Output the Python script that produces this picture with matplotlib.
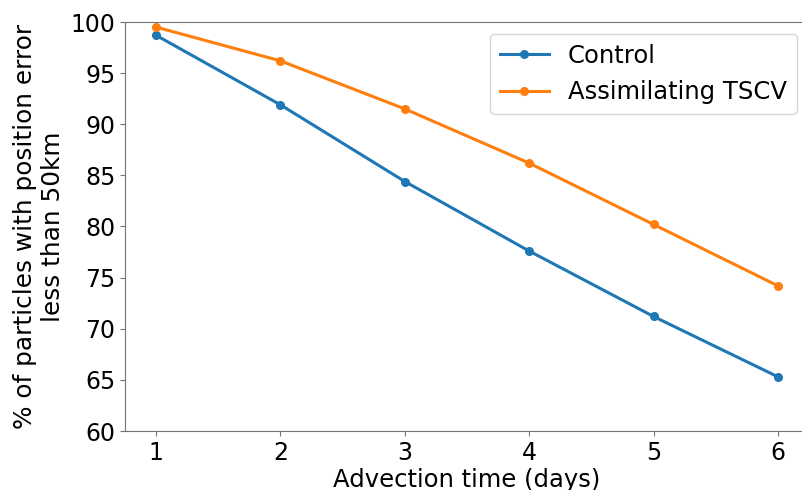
import numpy as np
import matplotlib
matplotlib.use("Agg")
import matplotlib.pyplot as plt

days = [1, 2, 3, 4, 5, 6]
control = [98.7, 91.9, 84.4, 77.6, 71.2, 65.3]
tscv = [99.5, 96.2, 91.5, 86.2, 80.2, 74.2]

plt.rcParams['font.family'] = ['DejaVu Sans']
plt.rcParams['font.size'] = 17.5

fig = plt.figure(figsize=(8.02, 4.9), dpi=100)
# axes run a little past the right edge, as in the cropped original
ax = fig.add_axes([125 / 802, 59 / 490, 684 / 802, 409 / 490])

ax.plot(days, control, marker='o', lw=2.2, ms=5.5, color='#1f77b4', label='Control')
ax.plot(days, tscv, marker='o', lw=2.2, ms=5.5, color='#ff7f0e', label='Assimilating TSCV')

ax.set_ylim(60, 100)
ax.set_xticks(days)
ax.set_yticks(np.arange(60, 101, 5))
ax.tick_params(labelsize=17, color='0.45')
for s in ax.spines.values():
    s.set_color('0.45')

ax.set_xlabel('Advection time (days)', labelpad=2)
ax.set_ylabel('% of particles with position error\nless than 50km', fontsize=17.8)
ax.legend(loc='upper right')

fig.savefig('out.png', dpi=100)
